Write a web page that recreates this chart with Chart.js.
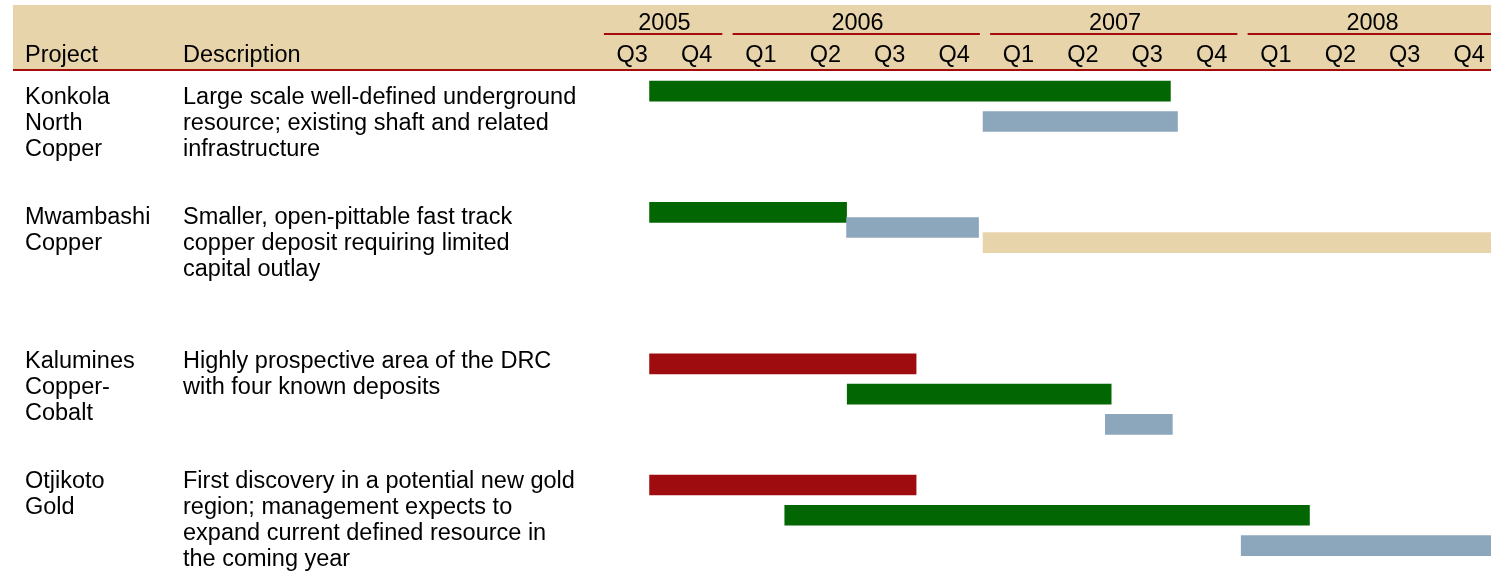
<!DOCTYPE html>
<html>
<head>
<meta charset="utf-8">
<script src="https://cdn.jsdelivr.net/npm/chart.js@4"></script>
<style>
  body { margin: 0; background: #ffffff; overflow: hidden; }
  canvas { display: block; }
</style>
</head>
<body>
<canvas id="gantt" width="1491" height="571"></canvas>
<script>
// Timeline, in quarters counted from the start of 2005 Q3
const quarterLabels = ["Q3", "Q4", "Q1", "Q2", "Q3", "Q4", "Q1", "Q2", "Q3", "Q4", "Q1", "Q2", "Q3", "Q4"];
const years = ["2005", "2006", "2007", "2008"];
const yearStart = [0, 2, 6, 10];
const yearEnd = [2, 6, 10, 14];

// Projects and their text
const projectNames = [
  ["Konkola", "North", "Copper"],
  ["Mwambashi", "Copper"],
  ["Kalumines", "Copper-", "Cobalt"],
  ["Otjikoto", "Gold"],
];
const projectDescriptions = [
  ["Large scale well-defined underground", "resource; existing shaft and related", "infrastructure"],
  ["Smaller, open-pittable fast track", "copper deposit requiring limited", "capital outlay"],
  ["Highly prospective area of the DRC", "with four known deposits"],
  ["First discovery in a potential new gold", "region; management expects to", "expand current defined resource in", "the coming year"],
];
const projectTextRow = [0.2, 4.16, 8.91, 12.9];

// Bars: lane on the row axis, start / end in quarters, colour key
const barRow = [0, 1, 4, 4.5, 5, 9, 10, 11, 13, 14, 15];
const barStart = [0.77, 5.95, 0.77, 3.83, 5.95, 0.77, 3.84, 7.85, 0.77, 2.87, 9.96];
const barEnd = [8.86, 8.97, 3.83, 5.88, 14, 4.91, 7.94, 8.89, 4.91, 11.02, 14];
const barKind = ["green", "blue", "green", "blue", "beige", "red", "green", "blue", "red", "green", "blue"];

const palette = {
  green: "#026602",
  blue: "#8CA7BC",
  beige: "#E7D4AA",
  red: "#9E0C10",
};
const headerRed = "#A50D0D";
const font = "'Liberation Sans', Arial, sans-serif";
const fontSize = 23.5;

const headerPlugin = {
  id: "header",
  beforeDraw(chart) {
    const ctx = chart.ctx;
    ctx.save();
    ctx.fillStyle = palette.beige;
    ctx.fillRect(13, 5, chart.width - 13, 64);
    ctx.restore();
  },
  afterDraw(chart) {
    const ctx = chart.ctx;
    const x = chart.scales.x;
    const y = chart.scales.y;
    ctx.save();

    // red rule under the header
    ctx.fillStyle = headerRed;
    ctx.fillRect(13, 69, chart.width - 13, 2);

    // years with their underlines
    ctx.font = fontSize + "px " + font;
    ctx.textAlign = "center";
    ctx.textBaseline = "alphabetic";
    years.forEach((yr, i) => {
      const x0 = x.getPixelForValue(yearStart[i] + 0.06);
      const x1 = x.getPixelForValue(yearEnd[i] - 0.1);
      ctx.fillStyle = headerRed;
      ctx.fillRect(x0, 33, x1 - x0, 2);
      ctx.fillStyle = "#000000";
      ctx.fillText(yr, x.getPixelForValue((yearStart[i] + yearEnd[i]) / 2), 30);
    });

    // column headings
    ctx.textAlign = "left";
    ctx.fillText("Project", 25, 62);
    ctx.fillText("Description", 183, 62);

    // project names and descriptions
    ctx.textBaseline = "middle";
    projectNames.forEach((lines, p) => {
      const top = y.getPixelForValue(projectTextRow[p]);
      lines.forEach((t, i) => ctx.fillText(t, 25, top + i * 26));
      projectDescriptions[p].forEach((t, i) => ctx.fillText(t, 183, top + i * 26));
    });
    ctx.restore();
  },
};

const ctx = document.getElementById("gantt").getContext("2d");

new Chart(ctx, {
  type: "bar",
  data: {
    datasets: [
      {
        data: barRow.map((r, i) => ({ x: [barStart[i], barEnd[i]], y: r })),
        backgroundColor: barKind.map((k) => palette[k]),
        borderWidth: 0,
        borderSkipped: false,
        barThickness: 20,
      },
    ],
  },
  options: {
    indexAxis: "y",
    responsive: false,
    animation: false,
    events: [],
    layout: { padding: { left: 600, right: 0, top: 39, bottom: 0 } },
    plugins: { legend: { display: false }, tooltip: { enabled: false } },
    scales: {
      x: {
        type: "linear",
        position: "top",
        min: 0,
        max: 13.84,
        grid: { display: false, drawTicks: false },
        border: { display: false },
        afterBuildTicks: (axis) => {
          axis.ticks = quarterLabels.map((q, i) => ({ value: i + 0.5 }));
        },
        ticks: {
          autoSkip: false,
          maxRotation: 0,
          padding: 2,
          color: "#000000",
          font: { family: font, size: fontSize },
          callback: (value, index) => quarterLabels[index],
        },
      },
      y: {
        type: "linear",
        reverse: true,
        min: -0.66,
        max: 15.84,
        offset: false,
        display: false,
      },
    },
  },
  plugins: [headerPlugin],
});
</script>
</body>
</html>
